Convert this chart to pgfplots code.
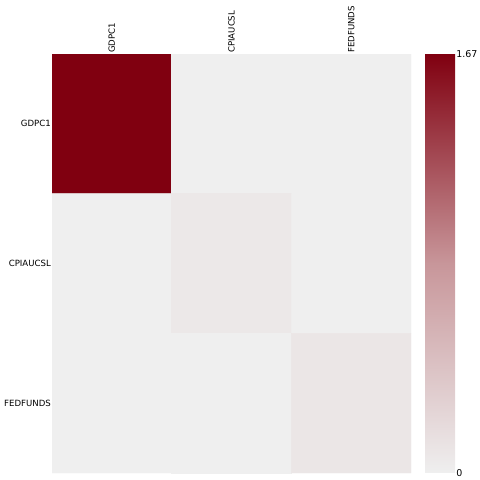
\documentclass[border=0pt]{standalone}
\usepackage{pgfplots}
\pgfplotsset{compat=1.18}
\usepackage{fontspec}
\setmainfont{DejaVu Sans}
\pgfplotstableread{
x y C
0 0 1.67
1 0 0.004
2 0 0.003
0 1 0.004
1 1 0.07
2 1 0.001
0 2 0.003
1 2 0.001
2 2 0.085
}\covdata
\begin{document}
\begin{tikzpicture}
\begin{axis}[
  name=ax,
  scale only axis, width=359bp, height=419bp,
  xmin=-0.5, xmax=2.5, ymin=-0.5, ymax=2.5,
  enlargelimits=false,
  y dir=reverse,
  xtick={0,1,2}, ytick={0,1,2},
  xticklabels={GDPC1,CPIAUCSL,FEDFUNDS},
  yticklabels={GDPC1,CPIAUCSL,FEDFUNDS},
  xticklabel pos=upper,
  xticklabel style={rotate=90, anchor=west, font=\fontsize{8.6}{10}\selectfont, inner sep=1bp},
  yticklabel style={font=\fontsize{8.6}{10}\selectfont, inner sep=1bp},
  axis line style={draw=none},
  major tick length=0pt,
  colormap={cov}{rgb255=(239,239,239) rgb255=(200,150,154) rgb255=(128,0,16)},
  point meta min=0, point meta max=1.67,
  colorbar right,
  colorbar/width=30bp,
  colorbar shift/.style={xshift=14bp},
  colorbar style={
    ytick={0,1.67}, yticklabels={0,1.67},
    yticklabel style={font=\fontsize{9.5}{11}\selectfont, inner sep=1bp, text=black},
    axis line style={draw=none},
    major tick length=0pt,
  },
]
\addplot[matrix plot*, mesh/cols=3, point meta=explicit] table[x=x, y=y, meta=C] {\covdata};
\end{axis}
\pgfresetboundingbox
\path[use as bounding box] ([xshift=-52bp,yshift=-7bp]ax.south west) rectangle ++(480bp,480bp);
\end{tikzpicture}
\end{document}
